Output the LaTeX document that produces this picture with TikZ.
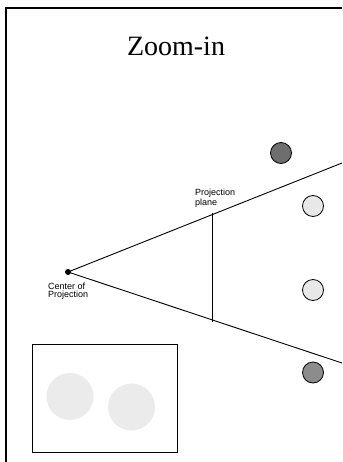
\documentclass[tikz,border=0pt]{standalone}
\usepackage{fontspec}
\setmainfont{Liberation Serif}
\newfontfamily\labelfont{Liberation Sans}
\begin{document}
\begin{tikzpicture}[x=1pt,y=-1pt,
  frame/.style={line width=2.5pt},
  ray/.style={line width=0.9pt},
  ball/.style={circle,draw=black,line width=0.8pt,minimum size=21pt,inner sep=0pt},
  darkball/.style={ball,fill=black!57},
  midball/.style={ball,fill=black!45},
  lightball/.style={ball,fill=black!9},
  blob/.style={circle,fill=black!8,minimum size=47pt,inner sep=0pt},
  smalllabel/.style={font=\labelfont\fontsize{9}{8.2}\selectfont,align=left,inner sep=0pt,anchor=north west}]
\useasboundingbox (0,0) rectangle (342,462);
\fill[white] (0,0) rectangle (342,462);
\draw[frame] (6,462) -- (6,8) -- (342,8);
\node[font=\fontsize{28}{30}\selectfont] (title) at (176,46) {Zoom-in};
% center of projection
\fill (68,272) circle (3pt);
\coordinate (cop) at (68,272);
\coordinate (top) at (342,163);
\coordinate (bot) at (342,363);
\coordinate (pt) at (212,212.7);
\coordinate (pb) at (212,321.7);
\draw[ray] (cop) -- (top);
\draw[ray] (cop) -- (bot);
\draw[ray] (pt) -- (pb);
\node[smalllabel] (plab) at (195,189) {Projection\\plane};
\node[smalllabel] (clab) at (48,283) {Center of\\Projection};
% objects
\node[darkball] (o1) at (281,153) {};
\node[lightball] (o2) at (313,206) {};
\node[lightball] (o3) at (313,290) {};
\node[midball] (o4) at (313,372.5) {};
% inset image
\draw[line width=0.9pt] (32,344) rectangle (177,452);
\node[blob] (b1) at (70,396.5) {};
\node[blob] (b2) at (131.5,407) {};
\end{tikzpicture}
\end{document}
